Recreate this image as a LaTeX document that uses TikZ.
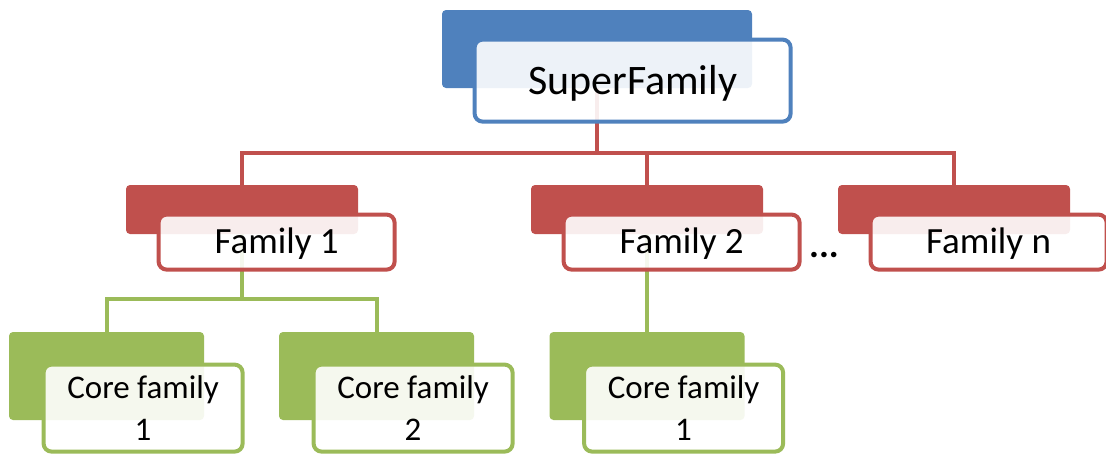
\documentclass[tikz,border=0pt]{standalone}
\usepackage{fontspec}
\setmainfont{Carlito}
\usepackage{tikz}
\usetikzlibrary{positioning, calc}

\definecolor{supblue}{HTML}{4F81BD}
\definecolor{famred}{HTML}{C0504D}
\definecolor{coregreen}{HTML}{9BBB59}

\begin{document}
\begin{tikzpicture}[
    x=0.5pt, y=-0.5pt,
    supback/.style={rectangle, fill=supblue, rounded corners=2pt, minimum width=155pt, minimum height=39pt, inner sep=0pt},
    famback/.style={rectangle, fill=famred, rounded corners=2pt, minimum width=116pt, minimum height=24.5pt, inner sep=0pt},
    coreback/.style={rectangle, fill=coregreen, rounded corners=2pt, minimum width=97.5pt, minimum height=44pt, inner sep=0pt},
    supfront/.style={rectangle, draw=supblue, line width=2pt, fill=white, fill opacity=0.9, text opacity=1, rounded corners=4pt, minimum width=158pt, minimum height=41pt, inner sep=0pt, text depth=1pt, font=\fontsize{21}{25}\selectfont},
    famfront/.style={rectangle, draw=famred, line width=2pt, fill=white, fill opacity=0.9, text opacity=1, rounded corners=4pt, minimum width=118pt, minimum height=27.5pt, inner sep=0pt, text depth=1pt, font=\fontsize{18.5}{22}\selectfont},
    corefront/.style={rectangle, draw=coregreen, line width=2pt, fill=white, fill opacity=0.9, text opacity=1, rounded corners=4pt, minimum width=99.5pt, minimum height=43.5pt, inner sep=0pt, align=center, font=\fontsize{16.5}{21}\selectfont},
    redline/.style={draw=famred, line width=2pt},
    greenline/.style={draw=coregreen, line width=2pt}
]
    \useasboundingbox (0,0) rectangle (1106,455);

    % Back boxes
    \node[supback] (supb) at (597,49) {};
    \node[famback] (fam1b) at (242,209.5) {};
    \node[famback] (fam2b) at (647,209.5) {};
    \node[famback] (famnb) at (954,209.5) {};
    \node[coreback] (core1b) at (106.5,376) {};
    \node[coreback] (core2b) at (376.5,376) {};
    \node[coreback] (core3b) at (647,376) {};

    % Connections
    \coordinate (redbus) at ([yshift=-32.5pt]supb.south);
    \draw[redline] (supb.south) -- (redbus) -| (fam1b.north);
    \draw[redline] (redbus) -| (fam2b.north);
    \draw[redline] (redbus) -| (famnb.north);
    \coordinate (greenbus) at ([yshift=-32.5pt]fam1b.south);
    \draw[greenline] (fam1b.south) -- (greenbus) -| (core1b.north);
    \draw[greenline] (greenbus) -| (core2b.north);
    \draw[greenline] (fam2b.south) -- (core3b.north);

    % Front boxes
    \node[supfront, below right=14pt and 15.5pt of supb.north west] (supf) {SuperFamily};
    \node[famfront, below right=14pt and 15.5pt of fam1b.north west] (fam1f) {Family 1};
    \node[famfront, below right=14pt and 15.5pt of fam2b.north west] (fam2f) {Family 2};
    \node[famfront, below right=14pt and 15.5pt of famnb.north west] (famnf) {Family n};
    \node[corefront, below right=15.5pt and 16.5pt of core1b.north west] (core1f) {Core family\\1};
    \node[corefront, below right=15.5pt and 16.5pt of core2b.north west] (core2f) {Core family\\2};
    \node[corefront, below right=15.5pt and 16.5pt of core3b.north west] (core3f) {Core family\\1};

    \node[font=\fontsize{18.5}{22}\selectfont\bfseries, inner sep=0pt] (dots) at (824,255) {...};
\end{tikzpicture}
\end{document}
